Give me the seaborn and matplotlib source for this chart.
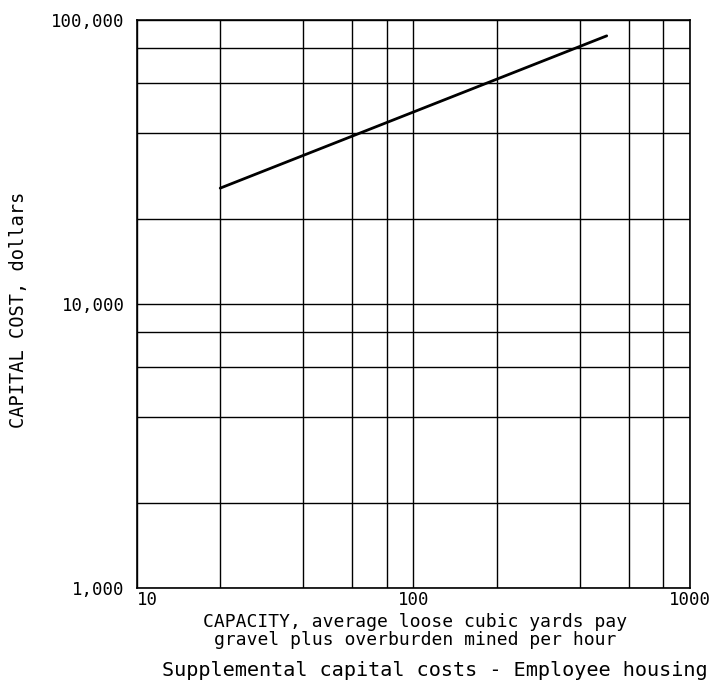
import matplotlib
matplotlib.use("Agg")
import matplotlib.pyplot as plt
import matplotlib.ticker as mticker
import numpy as np
import pandas as pd
import seaborn as sns

# Capacity (loose cubic yards per hour) and capital cost (dollars)
capacity = [20, 500]
capital_cost = [25600, 88000]

x_major = [10, 100, 1000]
x_labels = ["10", "100", "1000"]
y_major = [1000, 10000, 100000]
y_labels = ["1,000", "10,000", "100,000"]
x_grid = [20, 40, 60, 80, 200, 400, 600, 800]
y_grid = [2000, 4000, 6000, 8000, 20000, 40000, 60000, 80000]

sns.set_style("white")
plt.rcParams["font.family"] = ["DejaVu Sans Mono", "DejaVu Sans"]
plt.rcParams["text.color"] = "black"
plt.rcParams["xtick.color"] = "black"
plt.rcParams["ytick.color"] = "black"
plt.rcParams["axes.labelcolor"] = "black"

df = pd.DataFrame({"capacity": capacity, "cost": capital_cost})

fig = plt.figure(figsize=(7.12, 6.83), dpi=100)
ax = fig.add_axes([0.1924, 0.139, 0.7766, 0.8316])

sns.lineplot(data=df, x="capacity", y="cost", ax=ax, color="black", linewidth=2.0)

ax.set_xscale("log")
ax.set_yscale("log")
ax.set_xlim(10, 1000)
ax.set_ylim(1000, 100000)

ax.xaxis.set_major_locator(mticker.FixedLocator(x_major))
ax.xaxis.set_major_formatter(mticker.FixedFormatter(x_labels))
ax.xaxis.set_minor_locator(mticker.FixedLocator(x_grid))
ax.xaxis.set_minor_formatter(mticker.NullFormatter())
ax.yaxis.set_major_locator(mticker.FixedLocator(y_major))
ax.yaxis.set_major_formatter(mticker.FixedFormatter(y_labels))
ax.yaxis.set_minor_locator(mticker.FixedLocator(y_grid))
ax.yaxis.set_minor_formatter(mticker.NullFormatter())

ax.grid(True, which="both", color="black", linewidth=1.0)
ax.tick_params(which="both", length=0)
ax.tick_params(axis="y", labelsize=12.5, pad=9)
ax.tick_params(axis="x", labelsize=12.5, pad=2)
for sp in ax.spines.values():
    sp.set_color("black")
    sp.set_linewidth(1.2)

xt = ax.get_xticklabels()
xt[0].set_horizontalalignment("left")

ax.set_xlabel("")
ax.set_ylabel("")
fig.text(0.583, 0.076, "CAPACITY, average loose cubic yards pay\ngravel plus overburden mined per hour",
         ha="center", va="center", fontsize=13, linespacing=1.05)
fig.text(0.026, 0.546, "CAPITAL COST, dollars", rotation=90,
         ha="center", va="center", fontsize=13.5)
fig.text(0.611, 0.019, "Supplemental capital costs - Employee housing",
         ha="center", va="center", fontsize=14.5)

fig.savefig("out.png", dpi=100, facecolor="white")
